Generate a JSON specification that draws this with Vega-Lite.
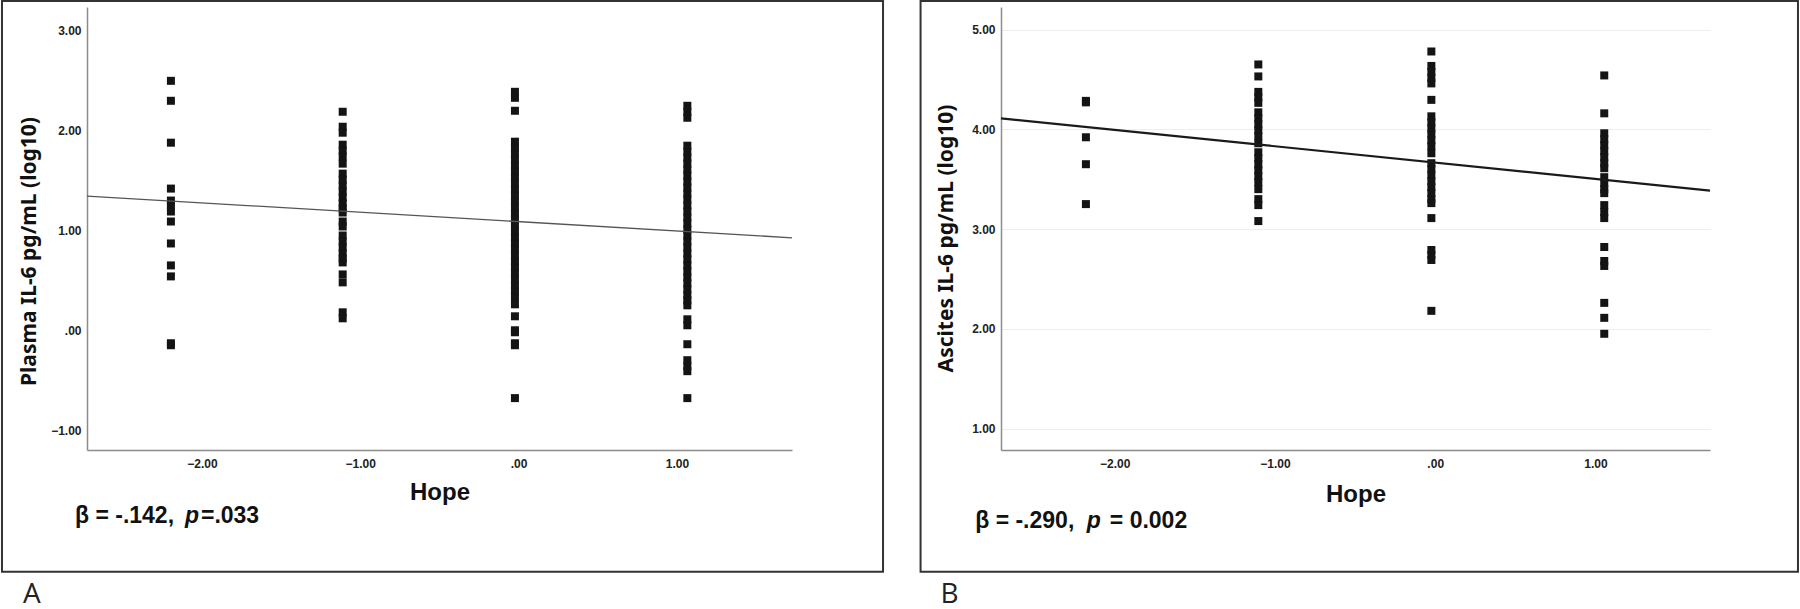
{
  "$schema": "https://vega.github.io/schema/vega-lite/v6.json",
  "padding": 0,
  "background": "white",
  "spacing": 34,
  "config": {"view": {"stroke": null}, "font": "Liberation Sans"},
  "datasets": {
    "plasma": [
      {"hope": -2.196, "il6": 2.50}, {"hope": -2.196, "il6": 2.30}, {"hope": -2.196, "il6": 1.88}, {"hope": -2.196, "il6": 1.42},
      {"hope": -2.196, "il6": 1.30}, {"hope": -2.196, "il6": 1.25}, {"hope": -2.196, "il6": 1.19}, {"hope": -2.196, "il6": 1.09},
      {"hope": -2.196, "il6": 0.87}, {"hope": -2.196, "il6": 0.65}, {"hope": -2.196, "il6": 0.54}, {"hope": -2.196, "il6": -0.13},
      {"hope": -2.196, "il6": -0.15},
      {"hope": -1.111, "il6": 2.19}, {"hope": -1.111, "il6": 2.04}, {"hope": -1.111, "il6": 1.98}, {"hope": -1.111, "il6": 1.86},
      {"hope": -1.111, "il6": 1.80}, {"hope": -1.111, "il6": 1.74}, {"hope": -1.111, "il6": 1.67}, {"hope": -1.111, "il6": 1.57},
      {"hope": -1.111, "il6": 1.51}, {"hope": -1.111, "il6": 1.45}, {"hope": -1.111, "il6": 1.39}, {"hope": -1.111, "il6": 1.33},
      {"hope": -1.111, "il6": 1.27}, {"hope": -1.111, "il6": 1.22}, {"hope": -1.111, "il6": 1.18}, {"hope": -1.111, "il6": 1.09},
      {"hope": -1.111, "il6": 1.04}, {"hope": -1.111, "il6": 0.95}, {"hope": -1.111, "il6": 0.89}, {"hope": -1.111, "il6": 0.83},
      {"hope": -1.111, "il6": 0.77}, {"hope": -1.111, "il6": 0.72}, {"hope": -1.111, "il6": 0.68}, {"hope": -1.111, "il6": 0.56},
      {"hope": -1.111, "il6": 0.48}, {"hope": -1.111, "il6": 0.18}, {"hope": -1.111, "il6": 0.12},
      {"hope": -0.023, "il6": 2.39}, {"hope": -0.023, "il6": 2.33}, {"hope": -0.023, "il6": 2.20}, {"hope": -0.023, "il6": 1.89},
      {"hope": -0.023, "il6": 1.83}, {"hope": -0.023, "il6": 1.77}, {"hope": -0.023, "il6": 1.71}, {"hope": -0.023, "il6": 1.65},
      {"hope": -0.023, "il6": 1.59}, {"hope": -0.023, "il6": 1.53}, {"hope": -0.023, "il6": 1.47}, {"hope": -0.023, "il6": 1.41},
      {"hope": -0.023, "il6": 1.35}, {"hope": -0.023, "il6": 1.29}, {"hope": -0.023, "il6": 1.23}, {"hope": -0.023, "il6": 1.17},
      {"hope": -0.023, "il6": 1.11}, {"hope": -0.023, "il6": 1.05}, {"hope": -0.023, "il6": 0.99}, {"hope": -0.023, "il6": 0.93},
      {"hope": -0.023, "il6": 0.87}, {"hope": -0.023, "il6": 0.81}, {"hope": -0.023, "il6": 0.75}, {"hope": -0.023, "il6": 0.69},
      {"hope": -0.023, "il6": 0.63}, {"hope": -0.023, "il6": 0.57}, {"hope": -0.023, "il6": 0.51}, {"hope": -0.023, "il6": 0.45},
      {"hope": -0.023, "il6": 0.39}, {"hope": -0.023, "il6": 0.33}, {"hope": -0.023, "il6": 0.26}, {"hope": -0.023, "il6": 0.14},
      {"hope": -0.023, "il6": 0.00}, {"hope": -0.023, "il6": -0.02}, {"hope": -0.023, "il6": -0.13}, {"hope": -0.023, "il6": -0.15},
      {"hope": -0.023, "il6": -0.68},
      {"hope": 1.066, "il6": 2.25}, {"hope": 1.066, "il6": 2.19}, {"hope": 1.066, "il6": 2.13}, {"hope": 1.066, "il6": 1.85},
      {"hope": 1.066, "il6": 1.79}, {"hope": 1.066, "il6": 1.73}, {"hope": 1.066, "il6": 1.67}, {"hope": 1.066, "il6": 1.61},
      {"hope": 1.066, "il6": 1.55}, {"hope": 1.066, "il6": 1.49}, {"hope": 1.066, "il6": 1.43}, {"hope": 1.066, "il6": 1.37},
      {"hope": 1.066, "il6": 1.31}, {"hope": 1.066, "il6": 1.25}, {"hope": 1.066, "il6": 1.19}, {"hope": 1.066, "il6": 1.13},
      {"hope": 1.066, "il6": 1.07}, {"hope": 1.066, "il6": 1.01}, {"hope": 1.066, "il6": 0.95}, {"hope": 1.066, "il6": 0.89},
      {"hope": 1.066, "il6": 0.83}, {"hope": 1.066, "il6": 0.77}, {"hope": 1.066, "il6": 0.71}, {"hope": 1.066, "il6": 0.65},
      {"hope": 1.066, "il6": 0.59}, {"hope": 1.066, "il6": 0.53}, {"hope": 1.066, "il6": 0.47}, {"hope": 1.066, "il6": 0.41},
      {"hope": 1.066, "il6": 0.35}, {"hope": 1.066, "il6": 0.30}, {"hope": 1.066, "il6": 0.25}, {"hope": 1.066, "il6": 0.11},
      {"hope": 1.066, "il6": 0.05}, {"hope": 1.066, "il6": -0.14}, {"hope": 1.066, "il6": -0.30}, {"hope": 1.066, "il6": -0.36},
      {"hope": 1.066, "il6": -0.41}, {"hope": 1.066, "il6": -0.68}
    ],
    "ascites": [
      {"hope": -2.18, "il6": 4.285}, {"hope": -2.18, "il6": 4.27}, {"hope": -2.18, "il6": 3.92}, {"hope": -2.18, "il6": 3.65},
      {"hope": -2.18, "il6": 3.25},
      {"hope": -1.104, "il6": 4.65}, {"hope": -1.104, "il6": 4.53}, {"hope": -1.104, "il6": 4.375}, {"hope": -1.104, "il6": 4.32},
      {"hope": -1.104, "il6": 4.265}, {"hope": -1.104, "il6": 4.17}, {"hope": -1.104, "il6": 4.11}, {"hope": -1.104, "il6": 4.05},
      {"hope": -1.104, "il6": 3.99}, {"hope": -1.104, "il6": 3.93}, {"hope": -1.104, "il6": 3.86}, {"hope": -1.104, "il6": 3.77},
      {"hope": -1.104, "il6": 3.71}, {"hope": -1.104, "il6": 3.65}, {"hope": -1.104, "il6": 3.59}, {"hope": -1.104, "il6": 3.53},
      {"hope": -1.104, "il6": 3.47}, {"hope": -1.104, "il6": 3.40}, {"hope": -1.104, "il6": 3.30}, {"hope": -1.104, "il6": 3.24},
      {"hope": -1.104, "il6": 3.08},
      {"hope": -0.024, "il6": 4.78}, {"hope": -0.024, "il6": 4.635}, {"hope": -0.024, "il6": 4.575}, {"hope": -0.024, "il6": 4.515},
      {"hope": -0.024, "il6": 4.46}, {"hope": -0.024, "il6": 4.295}, {"hope": -0.024, "il6": 4.13}, {"hope": -0.024, "il6": 4.07},
      {"hope": -0.024, "il6": 4.01}, {"hope": -0.024, "il6": 3.95}, {"hope": -0.024, "il6": 3.89}, {"hope": -0.024, "il6": 3.83},
      {"hope": -0.024, "il6": 3.76}, {"hope": -0.024, "il6": 3.66}, {"hope": -0.024, "il6": 3.60}, {"hope": -0.024, "il6": 3.54},
      {"hope": -0.024, "il6": 3.48}, {"hope": -0.024, "il6": 3.42}, {"hope": -0.024, "il6": 3.36}, {"hope": -0.024, "il6": 3.30},
      {"hope": -0.024, "il6": 3.26}, {"hope": -0.024, "il6": 3.11}, {"hope": -0.024, "il6": 2.79}, {"hope": -0.024, "il6": 2.74},
      {"hope": -0.024, "il6": 2.69}, {"hope": -0.024, "il6": 2.18},
      {"hope": 1.055, "il6": 4.54}, {"hope": 1.055, "il6": 4.16}, {"hope": 1.055, "il6": 3.96}, {"hope": 1.055, "il6": 3.90},
      {"hope": 1.055, "il6": 3.84}, {"hope": 1.055, "il6": 3.78}, {"hope": 1.055, "il6": 3.72}, {"hope": 1.055, "il6": 3.66},
      {"hope": 1.055, "il6": 3.61}, {"hope": 1.055, "il6": 3.52}, {"hope": 1.055, "il6": 3.46}, {"hope": 1.055, "il6": 3.40},
      {"hope": 1.055, "il6": 3.36}, {"hope": 1.055, "il6": 3.24}, {"hope": 1.055, "il6": 3.17}, {"hope": 1.055, "il6": 3.11},
      {"hope": 1.055, "il6": 2.82}, {"hope": 1.055, "il6": 2.68}, {"hope": 1.055, "il6": 2.63}, {"hope": 1.055, "il6": 2.26},
      {"hope": 1.055, "il6": 2.11}, {"hope": 1.055, "il6": 1.95}
    ]
  },
  "hconcat": [
    {
      "width": 705,
      "height": 443,
      "layer": [
        {
          "data": {"name": "plasma"},
          "mark": {"type": "square", "size": 64, "opacity": 1, "color": "#141414"},
          "encoding": {
            "x": {
              "field": "hope", "type": "quantitative",
              "scale": {"domain": [-2.726, 1.727], "nice": false, "zero": false},
              "axis": {
                "title": "Hope", "values": [-2, -1, 0, 1],
                "labelExpr": "datum.value == 0 ? '.00' : format(datum.value, '.2f')",
                "grid": false, "ticks": false, "domainColor": "#8c8c8c", "domainWidth": 1.5,
                "labelFont": "Liberation Sans", "labelFontWeight": "bold", "labelFontSize": 12, "labelColor": "#222",
                "labelPadding": 8.5, "labelFlush": false,
                "titleFont": "Liberation Sans", "titleFontSize": 24, "titleFontWeight": "bold", "titleColor": "#111",
                "titleBaseline": "alphabetic", "titleY": 49
              }
            },
            "y": {
              "field": "il6", "type": "quantitative",
              "scale": {"domain": [-1.2, 3.24], "nice": false, "zero": false},
              "axis": {
                "title": "Plasma IL-6 pg/mL (log10)", "values": [-1, 0, 1, 2, 3],
                "labelExpr": "datum.value == 0 ? '.00' : format(datum.value, '.2f')",
                "grid": false, "ticks": false, "domainColor": "#8c8c8c", "domainWidth": 1.5,
                "labelFont": "Liberation Sans", "labelFontWeight": "bold", "labelFontSize": 12, "labelColor": "#222",
                "labelPadding": 6,
                "titleFont": "Noto Sans", "titleFontSize": 21, "titleFontWeight": "bold", "titleColor": "#111",
                "titleX": -48, "titleY": 244
              }
            }
          }
        },
        {
          "data": {"values": [{"hope": -2.726, "il6": 1.345}, {"hope": 1.727, "il6": 0.927}]},
          "mark": {"type": "line", "color": "#555555", "strokeWidth": 1.3},
          "encoding": {
            "x": {"field": "hope", "type": "quantitative"},
            "y": {"field": "il6", "type": "quantitative"}
          }
        },
        {
          "data": {"values": [{}]},
          "mark": {"type": "rect", "fillOpacity": 0, "fill": "white", "stroke": "#333333", "strokeWidth": 2},
          "encoding": {
            "x": {"datum": -3.263, "type": "quantitative"},
            "x2": {"datum": 2.302},
            "y": {"datum": 3.300, "type": "quantitative"},
            "y2": {"datum": -2.420}
          }
        },
        {
          "data": {"values": [{}]},
          "mark": {"type": "text", "text": "A", "font": "Open Sans", "fontSize": 28, "fontWeight": "normal", "align": "left", "baseline": "alphabetic", "color": "#222"},
          "encoding": {
            "x": {"datum": -3.130, "type": "quantitative"},
            "y": {"datum": -2.734, "type": "quantitative"}
          }
        },
        {
          "data": {"values": [{}]},
          "mark": {"type": "text", "text": "β = -.142,", "font": "Liberation Sans", "fontSize": 23, "fontWeight": "bold", "align": "left", "baseline": "alphabetic", "color": "#111"},
          "encoding": {
            "x": {"datum": -2.802, "type": "quantitative"},
            "y": {"datum": -1.929, "type": "quantitative"}
          }
        },
        {
          "data": {"values": [{}]},
          "mark": {"type": "text", "text": "p", "dx": 110, "font": "Liberation Sans", "fontSize": 23, "fontWeight": "bold", "fontStyle": "italic", "align": "left", "baseline": "alphabetic", "color": "#111"},
          "encoding": {
            "x": {"datum": -2.802, "type": "quantitative"},
            "y": {"datum": -1.929, "type": "quantitative"}
          }
        },
        {
          "data": {"values": [{}]},
          "mark": {"type": "text", "text": "=.033", "dx": 126, "font": "Liberation Sans", "fontSize": 23, "fontWeight": "bold", "align": "left", "baseline": "alphabetic", "color": "#111"},
          "encoding": {
            "x": {"datum": -2.802, "type": "quantitative"},
            "y": {"datum": -1.929, "type": "quantitative"}
          }
        }
      ]
    },
    {
      "width": 709,
      "height": 443,
      "layer": [
        {
          "data": {"name": "ascites"},
          "mark": {"type": "square", "size": 64, "opacity": 1, "color": "#141414"},
          "encoding": {
            "x": {
              "field": "hope", "type": "quantitative",
              "scale": {"domain": [-2.71, 1.715], "nice": false, "zero": false},
              "axis": {
                "title": "Hope", "values": [-2, -1, 0, 1],
                "labelExpr": "datum.value == 0 ? '.00' : format(datum.value, '.2f')",
                "grid": false, "ticks": false, "domainColor": "#8c8c8c", "domainWidth": 1.5,
                "labelFont": "Liberation Sans", "labelFontWeight": "bold", "labelFontSize": 12, "labelColor": "#222",
                "labelPadding": 8.5, "labelFlush": false,
                "titleFont": "Liberation Sans", "titleFontSize": 24, "titleFontWeight": "bold", "titleColor": "#111",
                "titleBaseline": "alphabetic", "titleY": 51
              }
            },
            "y": {
              "field": "il6", "type": "quantitative",
              "scale": {"domain": [0.785, 5.226], "nice": false, "zero": false},
              "axis": {
                "title": "Ascites IL-6 pg/mL (log10)", "values": [1, 2, 3, 4, 5],
                "labelExpr": "format(datum.value, '.2f')",
                "grid": true, "gridColor": "#eeeeee", "gridWidth": 1,
                "ticks": false, "domainColor": "#8c8c8c", "domainWidth": 1.5,
                "labelFont": "Liberation Sans", "labelFontWeight": "bold", "labelFontSize": 12, "labelColor": "#222",
                "labelPadding": 6,
                "titleFont": "Noto Sans", "titleFontSize": 21, "titleFontWeight": "bold", "titleColor": "#111",
                "titleX": -45, "titleY": 231
              }
            }
          }
        },
        {
          "data": {"values": [{"hope": -2.71, "il6": 4.11}, {"hope": 1.715, "il6": 3.385}]},
          "mark": {"type": "line", "color": "#1a1a1a", "strokeWidth": 2.2},
          "encoding": {
            "x": {"field": "hope", "type": "quantitative"},
            "y": {"field": "il6", "type": "quantitative"}
          }
        },
        {
          "data": {"values": [{}]},
          "mark": {"type": "rect", "fillOpacity": 0, "fill": "white", "stroke": "#333333", "strokeWidth": 2},
          "encoding": {
            "x": {"datum": -3.212, "type": "quantitative"},
            "x2": {"datum": 2.264},
            "y": {"datum": 5.286, "type": "quantitative"},
            "y2": {"datum": -0.435}
          }
        },
        {
          "data": {"values": [{}]},
          "mark": {"type": "text", "text": "B", "font": "Open Sans", "fontSize": 28, "fontWeight": "normal", "align": "left", "baseline": "alphabetic", "color": "#222"},
          "encoding": {
            "x": {"datum": -3.088, "type": "quantitative"},
            "y": {"datum": -0.749, "type": "quantitative"}
          }
        },
        {
          "data": {"values": [{}]},
          "mark": {"type": "text", "text": "β = -.290,", "font": "Liberation Sans", "fontSize": 23, "fontWeight": "bold", "align": "left", "baseline": "alphabetic", "color": "#111"},
          "encoding": {
            "x": {"datum": -2.871, "type": "quantitative"},
            "y": {"datum": 0.006, "type": "quantitative"}
          }
        },
        {
          "data": {"values": [{}]},
          "mark": {"type": "text", "text": "p", "dx": 111.6, "font": "Liberation Sans", "fontSize": 23, "fontWeight": "bold", "fontStyle": "italic", "align": "left", "baseline": "alphabetic", "color": "#111"},
          "encoding": {
            "x": {"datum": -2.871, "type": "quantitative"},
            "y": {"datum": 0.006, "type": "quantitative"}
          }
        },
        {
          "data": {"values": [{}]},
          "mark": {"type": "text", "text": "= 0.002", "dx": 134.6, "font": "Liberation Sans", "fontSize": 23, "fontWeight": "bold", "align": "left", "baseline": "alphabetic", "color": "#111"},
          "encoding": {
            "x": {"datum": -2.871, "type": "quantitative"},
            "y": {"datum": 0.006, "type": "quantitative"}
          }
        }
      ]
    }
  ]
}
